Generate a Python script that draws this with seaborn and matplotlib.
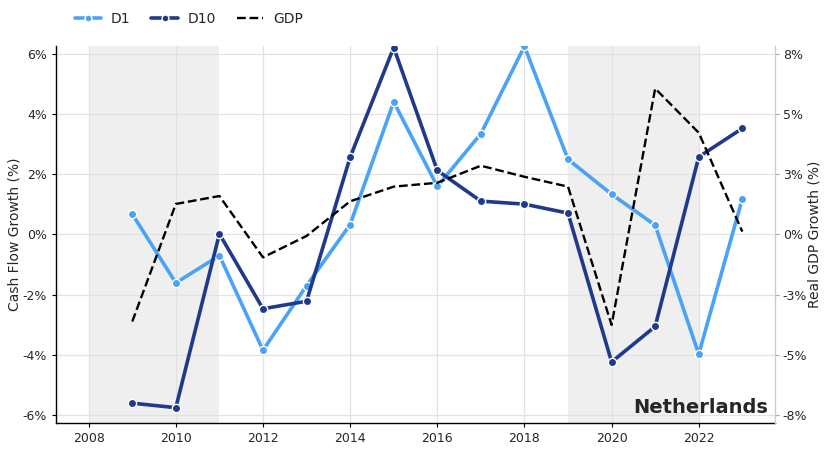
import matplotlib
matplotlib.use("Agg")
import matplotlib.pyplot as plt
import seaborn as sns
import pandas as pd
from matplotlib.lines import Line2D

years = list(range(2009, 2024))
d1 = [0.68, -1.61, -0.70, -3.85, -1.70, 0.33, 4.41, 1.60, 3.35, 6.26, 2.50, 1.34, 0.31, -3.98, 1.19]
d10 = [-5.61, -5.76, 0.02, -2.47, -2.22, 2.57, 6.22, 2.13, 1.11, 1.01, 0.71, -4.24, -3.06, 2.58, 3.53]
gdp = [-3.62, 1.27, 1.60, -0.95, -0.06, 1.38, 1.99, 2.15, 2.86, 2.40, 1.99, -3.76, 6.07, 4.23, 0.12]
recessions = [(2008, 2011), (2019, 2022)]
left_ticks = [-6, -4, -2, 0, 2, 4, 6]
left_labels = ["-6%", "-4%", "-2%", "0%", "2%", "4%", "6%"]
right_ticks = [-7.5, -5, -2.5, 0, 2.5, 5, 7.5]
right_labels = ["-8%", "-5%", "-3%", "0%", "3%", "5%", "8%"]
country = "Netherlands"

c_d1 = "#4aa3f7"
c_d10 = "#1f3a8a"

sns.set_style("white")
plt.rcParams['font.family'] = ['DejaVu Sans']

df = pd.DataFrame({"year": years, "D1": d1, "D10": d10, "GDP": gdp})

fig = plt.figure(figsize=(8.32, 4.5), dpi=100)
ax = fig.add_axes([56/832, 1-423/450, (775-56)/832, (423-46)/450])

for a, b in recessions:
    ax.axvspan(a, b, color="#efefef", zorder=0, lw=0)

ax.grid(True, color="#e2e2e2", lw=0.9, zorder=0.5)
ax.set_axisbelow(True)

sns.lineplot(data=df, x="year", y="D1", ax=ax, color=c_d1, lw=2.6, marker="o",
             markersize=6, markeredgecolor="white", markeredgewidth=1.0, zorder=3)
sns.lineplot(data=df, x="year", y="D10", ax=ax, color=c_d10, lw=2.6, marker="o",
             markersize=6, markeredgecolor="white", markeredgewidth=1.0, zorder=3)

lim = 6.27
ax.set_ylim(-lim, lim)
ax.set_xlim(2007.25, 2023.75)
ax.set_yticks(left_ticks)
ax.set_yticklabels(left_labels)
ax.set_xticks([2008, 2010, 2012, 2014, 2016, 2018, 2020, 2022])
ax.set_xlabel("")
ax.set_ylabel("Cash Flow Growth (%)", fontsize=10, labelpad=1)
ax.tick_params(axis="both", labelsize=9, length=3, width=0.8, color="black", left=True, bottom=True)
for s in ["top", "right"]:
    ax.spines[s].set_visible(False)
for s in ["left", "bottom"]:
    ax.spines[s].set_color("black")
    ax.spines[s].set_linewidth(1.0)

ax2 = ax.twinx()
sns.lineplot(data=df, x="year", y="GDP", ax=ax2, color="black", lw=1.7, linestyle="--", zorder=4)
ax2.set_ylim(-lim * 1.25, lim * 1.25)
ax2.set_yticks(right_ticks)
ax2.set_yticklabels(right_labels)
ax2.set_ylabel("Real GDP Growth (%)", fontsize=10, labelpad=0)
ax2.tick_params(axis="y", labelsize=9, length=3, width=0.8, color="#aaaaaa", right=True, pad=2.5)
for s in ["top", "left", "bottom"]:
    ax2.spines[s].set_visible(False)
ax2.spines["right"].set_color("#cccccc")
ax2.spines["right"].set_linewidth(1.0)
ax2.grid(False)

ax.text(0.99, 0.015, country, transform=ax.transAxes, ha="right", va="bottom",
        fontsize=14, fontweight="bold", zorder=10)

handles = [
    Line2D([0], [0], color=c_d1, lw=2.6, marker="o", markersize=5, markeredgecolor="white", markeredgewidth=1.0),
    Line2D([0], [0], color=c_d10, lw=2.6, marker="o", markersize=5, markeredgecolor="white", markeredgewidth=1.0),
    Line2D([0], [0], color="black", lw=1.7, linestyle="--"),
]
fig.legend(handles, ["D1", "D10", "GDP"], loc="center left", bbox_to_anchor=(0.075, 1 - 19/450),
           ncol=3, frameon=False, fontsize=10, handlelength=1.9, columnspacing=1.5, handletextpad=0.7)

fig.savefig("out.png", dpi=100)
